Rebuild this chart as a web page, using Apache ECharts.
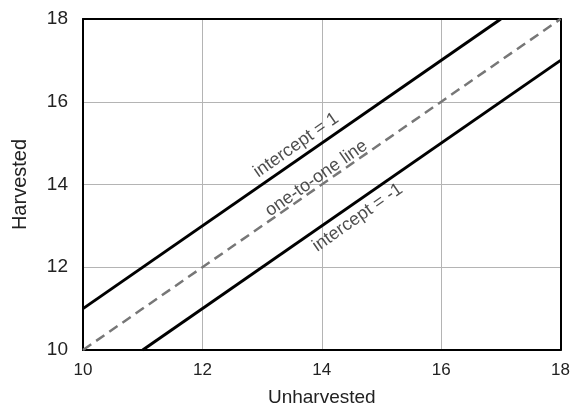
<!DOCTYPE html>
<html>
<head>
<meta charset="utf-8">
<script src="https://cdn.jsdelivr.net/npm/echarts@6/dist/echarts.min.js"></script>
<style>html,body{margin:0;padding:0;background:#fff;}#c{width:573px;height:412px;}</style>
</head>
<body>
<div id="c"></div>
<script>
const xTicks = [10, 12, 14, 16, 18];
const yTicks = [10, 12, 14, 16, 18];
const upperX = [10, 17];
const upperY = [11, 18];
const oneX = [10, 18];
const oneY = [10, 18];
const lowerX = [11, 18];
const lowerY = [10, 17];
const labelTexts = ['intercept = 1', 'one-to-one line', 'intercept = -1'];
const labelX = [13.57, 13.91, 14.6];
const labelY = [14.95, 14.15, 13.2];

const pairs = (xs, ys) => xs.map((x, i) => [x, ys[i]]);
const font = 'Liberation Sans, Arial, sans-serif';

const chart = echarts.init(document.getElementById('c'), null, {renderer: 'canvas'});
chart.setOption({
  animation: false,
  backgroundColor: '#fff',
  grid: {left: 83, right: 11, top: 19, bottom: 57},
  xAxis: [{
    type: 'value', min: xTicks[0], max: xTicks[xTicks.length - 1], interval: 2,
    name: 'Unharvested', nameLocation: 'middle', nameGap: 38,
    nameTextStyle: {fontSize: 19, color: '#222', fontFamily: font},
    axisLine: {show: true, lineStyle: {color: '#000', width: 2}},
    axisTick: {show: false},
    axisLabel: {fontSize: 17, color: '#222', margin: 12, fontFamily: font},
    splitLine: {show: true, lineStyle: {color: '#b4b4b4', width: 1}}
  }, {
    type: 'value', position: 'top', min: 10, max: 18, interval: 2,
    axisLine: {show: true, onZero: false, lineStyle: {color: '#000', width: 2}},
    axisTick: {show: false}, axisLabel: {show: false}, splitLine: {show: false}
  }],
  yAxis: [{
    type: 'value', min: yTicks[0], max: yTicks[yTicks.length - 1], interval: 2,
    name: 'Harvested', nameLocation: 'middle', nameGap: 53, nameRotate: 90,
    nameTextStyle: {fontSize: 20, color: '#222', fontFamily: font},
    axisLine: {show: true, lineStyle: {color: '#000', width: 2}},
    axisTick: {show: false},
    axisLabel: {fontSize: 19, color: '#222', margin: 15, fontFamily: font},
    splitLine: {show: true, lineStyle: {color: '#b4b4b4', width: 1}}
  }, {
    type: 'value', position: 'right', min: 10, max: 18, interval: 2,
    axisLine: {show: true, onZero: false, lineStyle: {color: '#000', width: 2}},
    axisTick: {show: false}, axisLabel: {show: false}, splitLine: {show: false}
  }],
  series: [
    {type: 'line', data: pairs(upperX, upperY), symbol: 'none', lineStyle: {color: '#000', width: 3}, z: 5},
    {type: 'line', data: pairs(oneX, oneY), symbol: 'none', lineStyle: {color: '#777', width: 2.5, type: [10, 6]}, z: 4},
    {type: 'line', data: pairs(lowerX, lowerY), symbol: 'none', lineStyle: {color: '#000', width: 3}, z: 5},
    {
      type: 'scatter', symbolSize: 0, z: 6,
      data: labelTexts.map((t, i) => ({name: t, value: [labelX[i], labelY[i]]})),
      label: {
        show: true, position: 'inside', rotate: 35, formatter: p => p.name,
        fontSize: 18, color: '#222', fontFamily: font, align: 'center', verticalAlign: 'middle'
      }
    }
  ]
});
</script>
</body>
</html>
